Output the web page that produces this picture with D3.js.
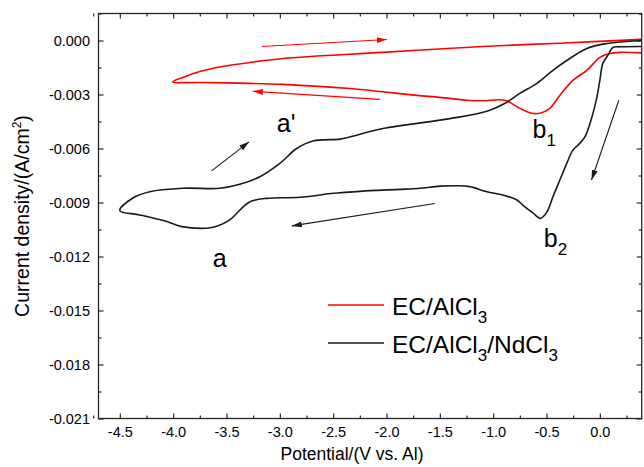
<!DOCTYPE html>
<html>
<head>
<meta charset="utf-8">
<script src="https://cdn.jsdelivr.net/npm/d3@7"></script>
<style>
  html, body { margin: 0; padding: 0; background: #fff; }
  svg { display: block; font-family: "Liberation Sans", Arial, sans-serif; }
</style>
</head>
<body>
<svg id="chart" width="644" height="467"></svg>
<script>
// ---- data (Potential in V vs. Al, current density in A/cm^2) ----
const alcl3Potential = [0.391, 0.1875, 0.094, 0.0, -0.122, -0.253, -0.375, -0.469, -0.5625, -0.6375, -0.75, -0.89, -1.097, -1.247, -1.5, -1.716, -2.034, -2.344, -2.97, -3.28, -3.75, -4.006,
  -3.909, -3.75, -3.59, -3.28, -2.97, -2.034, -1.097, -0.375, 0.391];
const alcl3Current = [-0.00069, -0.00066, -0.00072, -0.00094, -0.00166, -0.00222, -0.00305, -0.00377, -0.00404, -0.00404, -0.00377, -0.00332, -0.00335, -0.00332, -0.00316, -0.00305, -0.00285, -0.00267, -0.00244, -0.00238, -0.00233, -0.00231,
  -0.00205, -0.00172, -0.00150, -0.00122, -0.00100, -0.00066, -0.00033, -0.00015, 0.00006];

const ndcl3Potential = [0.391, 0.1875, 0.122, 0.075, 0.028, 0.0, -0.028, -0.075, -0.141, -0.206, -0.253, -0.309, -0.375, -0.441, -0.497, -0.556, -0.628, -0.722, -0.778, -0.909, -1.059, -1.219, -1.341, -1.5, -1.6875, -1.875, -2.156, -2.4375, -2.503, -2.8125, -3.125, -3.28, -3.375, -3.47, -3.625, -3.92, -4.06, -4.3125, -4.5,
  -4.378, -4.219, -3.909, -3.5625, -3.375, -3.1875, -3.0, -2.843, -2.69, -2.4375, -2.344, -2.034, -1.406, -1.059, -0.872, -0.75, -0.59, -0.44, -0.31, -0.122, 0.066, 0.391];
const ndcl3Current = [-0.00033, -0.00035, -0.00039, -0.00083, -0.00127, -0.00222, -0.00316, -0.00427, -0.00537, -0.00582, -0.00609, -0.00681, -0.00775, -0.00870, -0.00953, -0.00988, -0.00958, -0.00914, -0.00886, -0.00858, -0.00840, -0.00812, -0.00807, -0.00809, -0.00821, -0.00827, -0.00834, -0.00846, -0.00849, -0.00871, -0.00877, -0.00896, -0.00942, -0.00997, -0.01037, -0.01034, -0.01006, -0.00969, -0.00945,
  -0.00875, -0.00840, -0.00821, -0.00821, -0.00799, -0.00757, -0.00683, -0.00600, -0.00558, -0.00548, -0.00536, -0.00489, -0.00434, -0.00393, -0.00343, -0.00294, -0.00238, -0.00166, -0.00111, -0.00044, -0.00017, 0.0];

const seriesNames = ["EC/AlCl", "EC/AlCl/NdCl"];
const seriesColors = ["#ff0000", "#1a1a1a"];

const xTickValues = [-4.5, -4.0, -3.5, -3.0, -2.5, -2.0, -1.5, -1.0, -0.5, 0.0];
const xTickLabels = ["-4.5", "-4.0", "-3.5", "-3.0", "-2.5", "-2.0", "-1.5", "-1.0", "-0.5", "0.0"];
const xMinorValues = [-4.75, -4.25, -3.75, -3.25, -2.75, -2.25, -1.75, -1.25, -0.75, -0.25, 0.25];
const yTickValues = [0.0, -0.003, -0.006, -0.009, -0.012, -0.015, -0.018, -0.021];
const yTickLabels = ["0.000", "-0.003", "-0.006", "-0.009", "-0.012", "-0.015", "-0.018", "-0.021"];
const yMinorValues = [0.0015, -0.0015, -0.0045, -0.0075, -0.0105, -0.0135, -0.0165, -0.0195];

// arrows: start / end in data units
const arrowStartX = [-3.169, -2.0625, -3.640, -1.547, 0.178];
const arrowStartY = [-0.00033, -0.00327, -0.00724, -0.00906, -0.00332];
const arrowEndX = [-1.997, -3.253, -3.288, -2.8875, -0.078];
const arrowEndY = [0.000055, -0.00282, -0.00563, -0.01030, -0.00775];
const arrowSeries = [0, 0, 1, 1, 1];

// peak labels
const labelText = ["a'", "a", "b", "b"];
const labelSub = ["", "", "1", "2"];
const labelX = [-3.028, -3.628, -0.631, -0.525];
const labelY = [-0.0051, -0.01257, -0.00539, -0.01146];

// ---- layout ----
const svg = d3.select("#chart");
const mLeft = 98.5, mRight = 641.7, mTop = 13.5, mBottom = 418.5;
const x = d3.scaleLinear().domain([-4.7, 0.39]).range([mLeft, mLeft + (0.39 + 4.7) * 106.67]);
const y = d3.scaleLinear().domain([-0.021, 0.0015]).range([mBottom, mTop]);

const frameColor = "#262626";

const defs = svg.append("defs");
defs.append("clipPath").attr("id", "clip")
  .append("rect").attr("x", mLeft).attr("y", mTop).attr("width", mRight - mLeft).attr("height", mBottom - mTop);

seriesColors.forEach((c, i) => {
  defs.append("marker").attr("id", "ah" + i)
    .attr("viewBox", "0 0 10 6").attr("refX", 10).attr("refY", 3)
    .attr("markerWidth", 10).attr("markerHeight", 6).attr("markerUnits", "userSpaceOnUse")
    .attr("orient", "auto")
    .append("path").attr("d", "M0,0 L10,3 L0,6 Z").attr("fill", c);
});

// curves
const line = d3.line().x(d => x(d[0])).y(d => y(d[1])).curve(d3.curveCatmullRom.alpha(0.5));
const series = [
  d3.zip(alcl3Potential, alcl3Current),
  d3.zip(ndcl3Potential, ndcl3Current)
];
const g = svg.append("g").attr("clip-path", "url(#clip)");
series.forEach((s, i) => {
  g.append("path").attr("d", line(s)).attr("fill", "none")
    .attr("stroke", seriesColors[i]).attr("stroke-width", 1.6).attr("stroke-linejoin", "round");
});

// arrows
arrowStartX.forEach((v, i) => {
  svg.append("line")
    .attr("x1", x(v)).attr("y1", y(arrowStartY[i]))
    .attr("x2", x(arrowEndX[i])).attr("y2", y(arrowEndY[i]))
    .attr("stroke", seriesColors[arrowSeries[i]]).attr("stroke-width", 1.1)
    .attr("marker-end", "url(#ah" + arrowSeries[i] + ")");
});

// labels
labelText.forEach((t, i) => {
  const txt = svg.append("text").attr("x", x(labelX[i])).attr("y", y(labelY[i]))
    .attr("font-size", 25).attr("fill", "#000");
  txt.append("tspan").text(t);
  if (labelSub[i]) txt.append("tspan").attr("font-size", 17).attr("dy", 8).text(labelSub[i]);
});

// axes
function styleAxis(sel) {
  sel.select(".domain").remove();
  sel.selectAll(".tick line").attr("stroke", frameColor).attr("stroke-width", 1.2);
  sel.selectAll("text").attr("font-family", "Liberation Sans, Arial, sans-serif").attr("font-size", 14.5).attr("fill", "#000");
}
svg.append("g").attr("transform", `translate(0,${mBottom})`)
  .call(d3.axisBottom(x).tickValues(xTickValues).tickFormat((d, i) => xTickLabels[i]).tickSize(-5).tickPadding(8.5))
  .call(styleAxis);
svg.append("g").attr("transform", `translate(0,${mBottom})`)
  .call(d3.axisBottom(x).tickValues(xMinorValues).tickFormat("").tickSize(-3)).call(styleAxis);
svg.append("g").attr("transform", `translate(0,${mTop})`)
  .call(d3.axisTop(x).tickValues(xTickValues).tickFormat("").tickSize(-5)).call(styleAxis);
svg.append("g").attr("transform", `translate(0,${mTop})`)
  .call(d3.axisTop(x).tickValues(xMinorValues).tickFormat("").tickSize(-3)).call(styleAxis);
svg.append("g").attr("transform", `translate(${mLeft},0)`)
  .call(d3.axisLeft(y).tickValues(yTickValues).tickFormat((d, i) => yTickLabels[i]).tickSize(-5).tickPadding(8.5))
  .call(styleAxis);
svg.append("g").attr("transform", `translate(${mLeft},0)`)
  .call(d3.axisLeft(y).tickValues(yMinorValues).tickFormat("").tickSize(-3)).call(styleAxis);
svg.append("g").attr("transform", `translate(${mRight},0)`)
  .call(d3.axisRight(y).tickValues(yTickValues).tickFormat("").tickSize(-5)).call(styleAxis);
svg.append("g").attr("transform", `translate(${mRight},0)`)
  .call(d3.axisRight(y).tickValues(yMinorValues).tickFormat("").tickSize(-3)).call(styleAxis);

// frame
svg.append("rect").attr("x", mLeft).attr("y", mTop).attr("width", mRight - mLeft).attr("height", mBottom - mTop)
  .attr("fill", "none").attr("stroke", frameColor).attr("stroke-width", 1.3);

// axis titles
svg.append("text").attr("x", 352).attr("y", 460).attr("text-anchor", "middle")
  .attr("font-size", 17.5).attr("fill", "#000").text("Potential/(V vs. Al)");
const yt = svg.append("text").attr("transform", "translate(29,216) rotate(-90)").attr("text-anchor", "middle")
  .attr("font-size", 19.5).attr("fill", "#000");
yt.append("tspan").text("Current density/(A/cm");
yt.append("tspan").attr("font-size", 12).attr("dy", -8).text("2");
yt.append("tspan").attr("dy", 8).text(")");

// legend
const legY = [305, 343];
seriesNames.forEach((n, i) => {
  svg.append("line").attr("x1", 328).attr("x2", 384).attr("y1", legY[i]).attr("y2", legY[i])
    .attr("stroke", seriesColors[i]).attr("stroke-width", 1.6);
  const t = svg.append("text").attr("x", 392).attr("y", legY[i] + 9.7).attr("font-size", 24.5).attr("fill", "#000");
  t.append("tspan").text("EC/AlCl");
  t.append("tspan").attr("font-size", 17).attr("dy", 8).text("3");
  if (i === 1) {
    t.append("tspan").attr("dy", -8).text("/NdCl");
    t.append("tspan").attr("font-size", 17).attr("dy", 8).text("3");
  }
});
</script>
</body>
</html>
